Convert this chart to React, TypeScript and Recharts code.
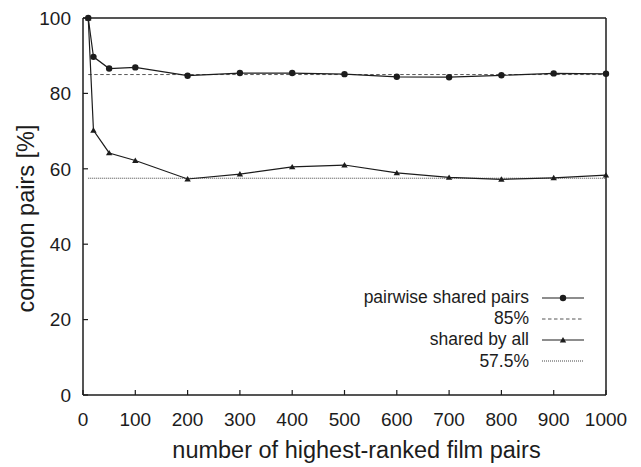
import { LineChart, Line, XAxis, YAxis, ReferenceLine } from 'recharts';

// x: size of the top-ranked pair set
const rankCounts = [10, 20, 50, 100, 200, 300, 400, 500, 600, 700, 800, 900, 1000];
// share of pairs common to every pair of rankings [%]
const pairwiseShared = [100, 89.7, 86.6, 86.9, 84.7, 85.4, 85.4, 85.1, 84.4, 84.3, 84.8, 85.3, 85.2];
// share of pairs common to all rankings [%]
const sharedByAll = [100, 70.2, 64.2, 62.2, 57.3, 58.6, 60.5, 61.0, 58.9, 57.7, 57.2, 57.6, 58.3];

const pairwiseLevel = 85;
const sharedLevel = 57.5;

const xTicks = [0, 100, 200, 300, 400, 500, 600, 700, 800, 900, 1000];
const yTicks = [0, 20, 40, 60, 80, 100];

const legendItems = [
  { label: 'pairwise shared pairs', kind: 'circle' },
  { label: '85%', kind: 'dashed' },
  { label: 'shared by all', kind: 'triangle' },
  { label: '57.5%', kind: 'dotted' },
];

const data = rankCounts.map((n, i) => ({
  n,
  pairwise: pairwiseShared[i],
  all: sharedByAll[i],
}));

const FONT = '"Liberation Sans", Arial, Helvetica, sans-serif';
const INK = '#1c1c1c';
const TICK_LEN = 5;
const DASH = '3.5 2.5';
const DOT = '1 1';

const BottomTick = ({ x, y, payload }: any) => (
  <g>
    <line x1={x} y1={y} x2={x} y2={y - TICK_LEN} stroke={INK} strokeWidth={1.2} />
    <text x={x} y={y + 31} textAnchor="middle" fontSize={19} fill={INK} fontFamily={FONT}>
      {payload.value}
    </text>
  </g>
);

const TopTick = ({ x, y }: any) => (
  <line x1={x} y1={y} x2={x} y2={y + TICK_LEN} stroke={INK} strokeWidth={1.2} />
);

const LeftTick = ({ x, y, payload }: any) => (
  <g>
    <line x1={x} y1={y} x2={x + TICK_LEN} y2={y} stroke={INK} strokeWidth={1.2} />
    <text x={x - 12} y={y} dy="0.36em" textAnchor="end" fontSize={19} fill={INK} fontFamily={FONT}>
      {payload.value}
    </text>
  </g>
);

const RightTick = ({ x, y }: any) => (
  <line x1={x} y1={y} x2={x - TICK_LEN} y2={y} stroke={INK} strokeWidth={1.2} />
);

const Triangle = ({ cx, cy }: any) => {
  if (cx == null || cy == null) return null;
  return (
    <polygon
      points={`${cx - 3.2},${cy + 2.4} ${cx + 3.2},${cy + 2.4} ${cx},${cy - 3}`}
      fill={INK}
    />
  );
};

const XTitle = ({ viewBox }: any) => (
  <text
    x={viewBox.x + viewBox.width / 2 + 12}
    y={viewBox.y + 63}
    textAnchor="middle"
    fontSize={23.5}
    fill={INK}
    fontFamily={FONT}
  >
    number of highest-ranked film pairs
  </text>
);

const YTitle = ({ viewBox }: any) => {
  const x = viewBox.x + viewBox.width - 49;
  const y = viewBox.y + viewBox.height / 2 + 12;
  return (
    <text
      x={x}
      y={y}
      transform={`rotate(-90 ${x} ${y})`}
      textAnchor="middle"
      fontSize={23.5}
      fill={INK}
      fontFamily={FONT}
    >
      common pairs [%]
    </text>
  );
};

function LegendSample({ kind }: { kind: string }) {
  return (
    <svg width={44} height={10} style={{ display: 'block' }}>
      {kind === 'dashed' && <line x1={1} y1={5} x2={43} y2={5} stroke="#555" strokeWidth={1} strokeDasharray={DASH} />}
      {kind === 'dotted' && <line x1={1} y1={5} x2={43} y2={5} stroke="#444" strokeWidth={1} strokeDasharray={DOT} />}
      {(kind === 'circle' || kind === 'triangle') && (
        <line x1={1} y1={5} x2={43} y2={5} stroke={INK} strokeWidth={1.2} />
      )}
      {kind === 'circle' && <circle cx={22} cy={5} r={3.2} fill={INK} />}
      {kind === 'triangle' && <Triangle cx={22} cy={5} />}
    </svg>
  );
}

export default function App() {
  return (
    <div style={{ position: 'absolute', left: 0, top: 0, width: 641, height: 467, background: '#fff', fontFamily: FONT }}>
      <LineChart
        width={641}
        height={467}
        data={data}
        margin={{ top: 17, right: 34, bottom: 42, left: 23 }}
      >
        <XAxis
          dataKey="n"
          type="number"
          domain={[0, 1000]}
          ticks={xTicks}
          interval={0}
          height={30}
          tickSize={0}
          tickMargin={0}
          tick={BottomTick}
          axisLine={{ stroke: INK, strokeWidth: 1.5 }}
          label={{ content: XTitle }}
        />
        <XAxis
          xAxisId="top"
          orientation="top"
          type="number"
          domain={[0, 1000]}
          ticks={xTicks.slice(1, -1)}
          interval={0}
          height={1}
          tickSize={0}
          tickMargin={0}
          tick={TopTick}
          axisLine={{ stroke: INK, strokeWidth: 1.5 }}
        />
        <YAxis
          type="number"
          domain={[0, 100]}
          ticks={yTicks}
          interval={0}
          width={60}
          tickSize={0}
          tickMargin={0}
          tick={LeftTick}
          axisLine={{ stroke: INK, strokeWidth: 1.5 }}
          label={{ content: YTitle }}
        />
        <YAxis
          yAxisId="right"
          orientation="right"
          type="number"
          domain={[0, 100]}
          ticks={yTicks.slice(1, -1)}
          interval={0}
          width={1}
          tickSize={0}
          tickMargin={0}
          tick={RightTick}
          axisLine={{ stroke: INK, strokeWidth: 1.5 }}
        />
        <ReferenceLine
          segment={[{ x: rankCounts[0], y: pairwiseLevel }, { x: 1000, y: pairwiseLevel }]}
          stroke="#555"
          strokeWidth={1}
          strokeDasharray={DASH}
        />
        <ReferenceLine
          segment={[{ x: rankCounts[0], y: sharedLevel }, { x: 1000, y: sharedLevel }]}
          stroke="#444"
          strokeWidth={1}
          strokeDasharray={DOT}
        />
        <Line
          type="linear"
          dataKey="pairwise"
          stroke={INK}
          strokeWidth={1.2}
          dot={{ r: 3.2, fill: INK, stroke: 'none' }}
          activeDot={false}
          isAnimationActive={false}
        />
        <Line
          type="linear"
          dataKey="all"
          stroke={INK}
          strokeWidth={1.2}
          dot={<Triangle />}
          activeDot={false}
          isAnimationActive={false}
        />
      </LineChart>

      {/* key, right-aligned labels with line samples */}
      <div style={{ position: 'absolute', left: 300, top: 287, width: 285 }}>
        {legendItems.map((item) => (
          <div
            key={item.label}
            style={{ display: 'flex', alignItems: 'center', justifyContent: 'flex-end', height: 21.2 }}
          >
            <span style={{ fontSize: 17.5, color: INK, lineHeight: '21px' }}>{item.label}</span>
            <span style={{ marginLeft: 12 }}>
              <LegendSample kind={item.kind} />
            </span>
          </div>
        ))}
      </div>
    </div>
  );
}
